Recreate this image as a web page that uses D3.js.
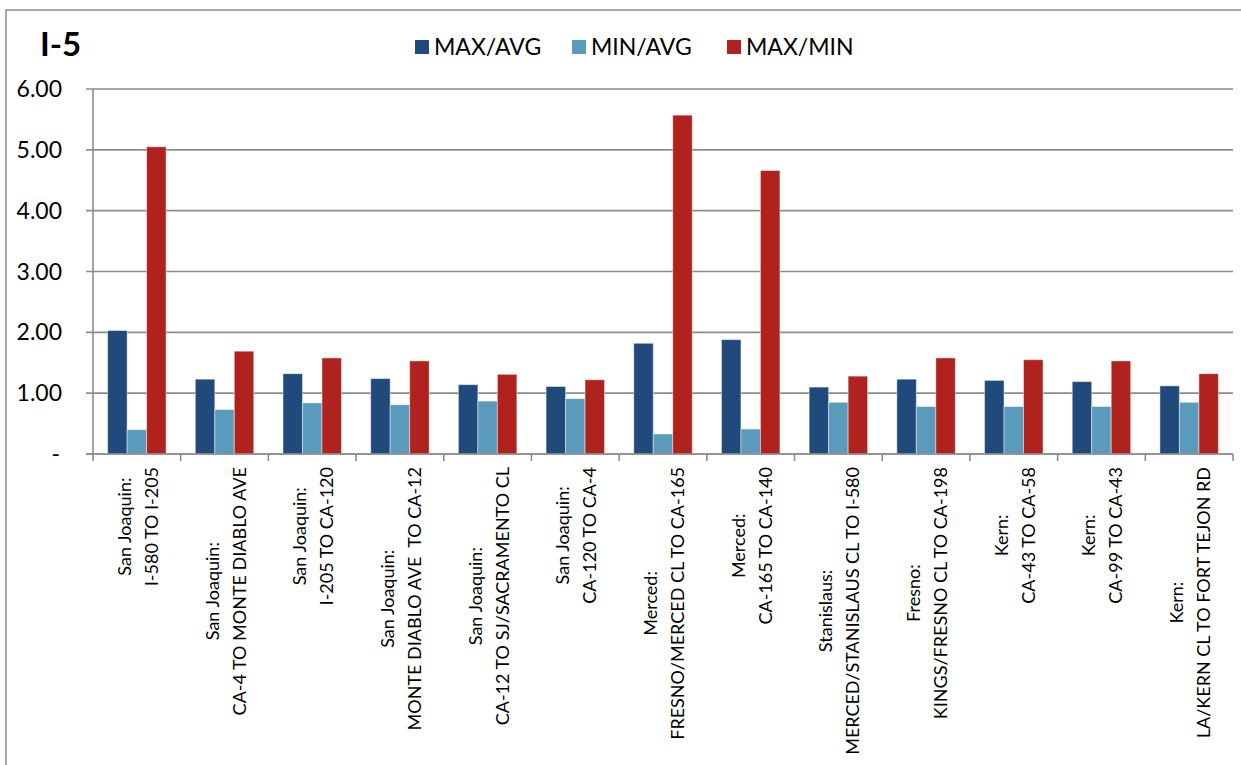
<!DOCTYPE html>
<html>
<head>
<meta charset="utf-8">
<script src="https://cdn.jsdelivr.net/npm/d3@7"></script>
<style>
  body { margin: 0; background: #fff; }
  text { font-family: Lato, "Liberation Sans", sans-serif; fill: #000; }
</style>
</head>
<body>
<svg id="chart" width="1241" height="765"></svg>
<script>
// categories: county line + segment line
const counties = ['San Joaquin:', 'San Joaquin:', 'San Joaquin:', 'San Joaquin:', 'San Joaquin:', 'San Joaquin:',
    'Merced:', 'Merced:', 'Stanislaus:', 'Fresno:', 'Kern:', 'Kern:', 'Kern:'];
const segments = ['I-580 TO I-205', 'CA-4 TO MONTE DIABLO AVE', 'I-205 TO CA-120', 'MONTE DIABLO AVE  TO CA-12',
    'CA-12 TO SJ/SACRAMENTO CL', 'CA-120 TO CA-4', 'FRESNO/MERCED CL TO CA-165', 'CA-165 TO CA-140',
    'MERCED/STANISLAUS CL TO I-580', 'KINGS/FRESNO CL TO CA-198', 'CA-43 TO CA-58', 'CA-99 TO CA-43',
    'LA/KERN CL TO FORT TEJON RD'];

const seriesNames = ['MAX/AVG', 'MIN/AVG', 'MAX/MIN'];
const maxAvg = [2.03, 1.23, 1.32, 1.24, 1.14, 1.11, 1.82, 1.88, 1.10, 1.23, 1.21, 1.19, 1.12];
const minAvg = [0.40, 0.73, 0.84, 0.81, 0.87, 0.91, 0.33, 0.41, 0.85, 0.78, 0.78, 0.78, 0.85];
const maxMin = [5.05, 1.69, 1.58, 1.53, 1.31, 1.22, 5.57, 4.66, 1.28, 1.58, 1.55, 1.53, 1.32];
const yTicks = [0, 1, 2, 3, 4, 5, 6];

const colors = ['#214a7c', '#5a9aba', '#b0221e'];

const svg = d3.select('#chart');
const margin = { left: 93, right: 1233, top: 89, bottom: 454 };

// outer chart frame
svg.append('rect')
    .attr('x', 6).attr('y', 10)
    .attr('width', 1260).attr('height', 800)
    .attr('fill', 'none').attr('stroke', '#8a8a8a').attr('stroke-width', 1.5);

const cats = d3.range(counties.length);
const x0 = d3.scaleBand().domain(cats).range([margin.left, margin.right]).paddingInner(0).paddingOuter(0);
const groupW = x0.bandwidth();
const barW = groupW / 4.5;
const x1 = d3.scaleBand().domain([0, 1, 2]).range([0, barW * 3]);
const y = d3.scaleLinear().domain([0, 6]).range([margin.bottom, margin.top]);

// gridlines + y ticks
svg.append('g').selectAll('line').data(yTicks).enter().append('line')
    .attr('x1', margin.left - 7).attr('x2', margin.right)
    .attr('y1', d => y(d)).attr('y2', d => y(d))
    .attr('stroke', '#8c8c8c').attr('stroke-width', 1.6);

svg.append('g').selectAll('text').data(yTicks).enter().append('text')
    .attr('x', d => d === 0 ? 60 : 62)
    .attr('y', d => y(d))
    .attr('dy', '0.35em')
    .attr('text-anchor', 'end')
    .style('font-size', '23px')
    .text(d => d === 0 ? '-' : d3.format('.2f')(d));

// bars
const data = [maxAvg, minAvg, maxMin];
const groups = svg.append('g').selectAll('g').data(cats).enter().append('g')
    .attr('transform', i => `translate(${x0(i) + (groupW - barW * 3) / 2},0)`);

groups.selectAll('rect')
    .data(i => data.map((s, k) => ({ k, v: s[i] })))
    .enter().append('rect')
    .attr('x', d => x1(d.k))
    .attr('y', d => y(d.v))
    .attr('width', x1.bandwidth())
    .attr('height', d => y(0) - y(d.v))
    .attr('fill', d => colors[d.k])
    .attr('stroke', 'rgba(255,255,255,0.45)')
    .attr('stroke-width', 1);

// axes lines
svg.append('line')
    .attr('x1', margin.left).attr('x2', margin.left)
    .attr('y1', margin.top).attr('y2', margin.bottom)
    .attr('stroke', '#8c8c8c').attr('stroke-width', 1.6);
svg.append('line')
    .attr('x1', margin.left - 7).attr('x2', margin.right)
    .attr('y1', margin.bottom).attr('y2', margin.bottom)
    .attr('stroke', '#8c8c8c').attr('stroke-width', 1.6);

// x tick marks at category boundaries
const bounds = d3.range(counties.length + 1).map(i => margin.left + i * groupW);
svg.append('g').selectAll('line').data(bounds).enter().append('line')
    .attr('x1', d => d).attr('x2', d => d)
    .attr('y1', margin.bottom).attr('y2', margin.bottom + 7)
    .attr('stroke', '#8c8c8c').attr('stroke-width', 1.6);

// x labels, rotated, two lines
const labelTop = 467;
cats.forEach(i => {
    const cx = x0(i) + groupW / 2;
    const g = svg.append('g');
    const t1 = g.append('text').style('font-size', '18px').style('white-space', 'pre')
        .attr('text-anchor', 'middle').text(counties[i]);
    const t2 = g.append('text').style('font-size', '18px').style('white-space', 'pre')
        .attr('text-anchor', 'middle').text(segments[i]);
    const len = Math.max(t1.node().getComputedTextLength(), t2.node().getComputedTextLength());
    g.attr('transform', `translate(${cx},${labelTop + len / 2}) rotate(-90)`);
    t1.attr('x', 0).attr('y', -13 + 7);
    t2.attr('x', 0).attr('y', 14 + 7);
});

// title
svg.append('text')
    .attr('x', 40).attr('y', 56)
    .style('font-size', '33px').style('font-weight', 'bold')
    .text('I-5');

// legend
const legendX = [415, 572, 727];
const legend = svg.append('g').selectAll('g').data(seriesNames).enter().append('g')
    .attr('transform', (d, i) => `translate(${legendX[i]},40)`);
legend.append('rect')
    .attr('width', 14).attr('height', 14)
    .attr('fill', (d, i) => colors[i]);
legend.append('text')
    .attr('x', 19).attr('y', 7).attr('dy', '0.36em')
    .style('font-size', '23px')
    .text(d => d);
</script>
</body>
</html>
